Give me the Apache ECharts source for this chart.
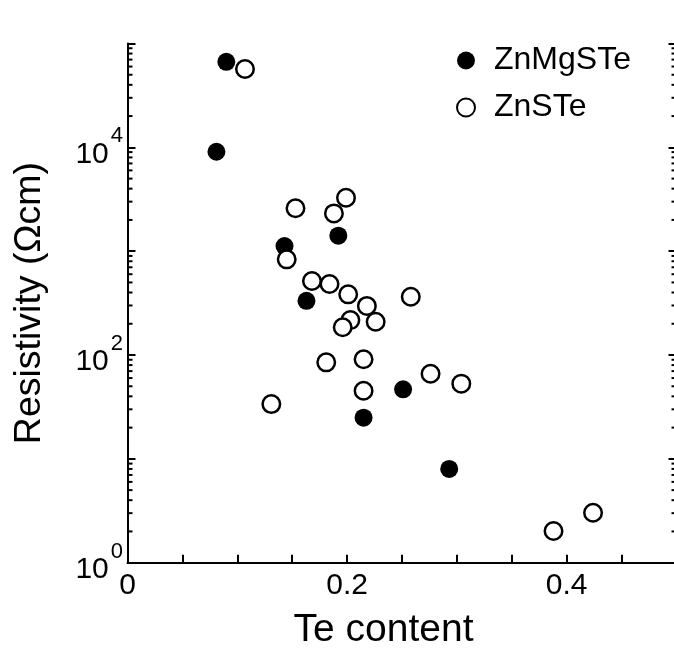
<!DOCTYPE html>
<html>
<head>
<meta charset="utf-8">
<script src="https://cdn.jsdelivr.net/npm/echarts@6/dist/echarts.min.js"></script>
<style>
html,body{margin:0;padding:0;background:#fff;}
#chart{width:674px;height:651px;}
</style>
</head>
<body>
<div id="chart"></div>
<script>
// ---- data ----
const seriesNames = ['ZnMgSTe', 'ZnSTe'];
const znMgSTeX = [0.090, 0.081, 0.143, 0.192, 0.163, 0.251, 0.215, 0.293];
const znMgSTeY = [66700, 9070, 1120, 1410, 333, 46.7, 24.9, 8.0];
const znSTeX = [0.107, 0.153, 0.199, 0.188, 0.145, 0.168, 0.184, 0.201, 0.218, 0.226, 0.203, 0.196, 0.258, 0.181, 0.215, 0.215, 0.276, 0.304, 0.131, 0.388, 0.424];
const znSTeY = [56800, 2590, 3270, 2310, 834, 516, 483, 384, 297, 209, 217, 185, 364, 85, 91, 45.3, 66, 53, 33.7, 2.02, 3.03];
const xTickLabels = {'0': '0', '0.2': '0.2', '0.4': '0.4'};
const yLabelExponents = {'1': '0', '100': '2', '10000': '4'};
const minorMultipliers = [2, 3, 4, 5, 6, 7, 8, 9];
const decades = [1, 10, 100, 1000, 10000];

const FONT = '"Liberation Sans", Arial, Helvetica, sans-serif';

function zip(xs, ys) { return xs.map((x, i) => [x, ys[i]]); }
const minorTickData = [];
decades.forEach(d => minorMultipliers.forEach(m => minorTickData.push([0, m * d])));

const chart = echarts.init(document.getElementById('chart'), null, {renderer: 'canvas'});
const axisLineStyle = {color: '#000', width: 2};

const option = {
  backgroundColor: '#fff',
  animation: false,
  textStyle: {fontFamily: FONT, color: '#000'},
  grid: {left: 127.5, top: 43.5, width: 549, height: 519.2, containLabel: false, outerBoundsMode: 'none'},
  legend: {
    data: seriesNames,
    orient: 'vertical',
    left: 456, top: 44.5,
    padding: 0,
    itemWidth: 18, itemHeight: 18,
    itemGap: 15,
    icon: 'circle',
    textStyle: {fontFamily: FONT, fontSize: 32, lineHeight: 31, color: '#000', padding: [0, 0, 0, 14]}
  },
  xAxis: {
    type: 'value', min: 0, max: 0.5, interval: 0.05,
    name: 'Te content', nameLocation: 'middle', nameGap: 49, nameMoveOverlap: false,
    nameTextStyle: {fontFamily: FONT, fontSize: 39, lineHeight: 38, color: '#000', padding: [0, 37, 0, 0]},
    axisLine: {show: true, onZero: false, lineStyle: axisLineStyle},
    axisTick: {show: true, inside: true, length: 8, lineStyle: axisLineStyle},
    splitLine: {show: false},
    axisLabel: {
      margin: 8, fontFamily: FONT, fontSize: 30, color: '#000', showMaxLabel: true,
      formatter: function (v) { const k = String(Math.round(v * 100) / 100); return xTickLabels[k] !== undefined ? xTickLabels[k] : ''; }
    }
  },
  yAxis: [{
    type: 'log', logBase: 10, min: 1, max: 100000,
    name: 'Resistivity (Ωcm)', nameLocation: 'middle', nameGap: 79, nameMoveOverlap: false,
    nameTextStyle: {fontFamily: FONT, fontSize: 37.5, lineHeight: 38, color: '#000'},
    axisLine: {show: true, lineStyle: axisLineStyle},
    axisTick: {show: true, inside: true, length: 8, lineStyle: axisLineStyle},
    splitLine: {show: false},
    axisLabel: {
      margin: 4.5, showMinLabel: true, showMaxLabel: true,
      formatter: function (v) { const e = yLabelExponents[String(Math.round(v))]; return e !== undefined ? '{b|10}{s|' + e + '}' : ''; },
      rich: {
        b: {fontFamily: FONT, fontSize: 30, lineHeight: 44, verticalAlign: 'bottom', color: '#000'},
        s: {fontFamily: FONT, fontSize: 22, lineHeight: 22, verticalAlign: 'top', color: '#000', padding: [0, 0, 0, 2]}
      }
    }
  }, {
    type: 'log', logBase: 10, min: 1, max: 100000, position: 'right',
    axisLine: {show: true, lineStyle: axisLineStyle},
    axisTick: {show: true, inside: true, length: 8, lineStyle: axisLineStyle},
    splitLine: {show: false},
    axisLabel: {show: false}
  }],
  series: [
    {
      type: 'custom', name: 'minorTicks', silent: true, clip: false,
      xAxisIndex: 0, yAxisIndex: 0,
      data: minorTickData,
      renderItem: function (params, api) {
        const v = api.value(1);
        const l = api.coord([0, v]);
        const r = api.coord([0.5, v]);
        const st = {stroke: '#000', lineWidth: 2};
        return {type: 'group', children: [
          {type: 'line', shape: {x1: l[0], y1: l[1], x2: l[0] + 5, y2: l[1]}, style: st},
          {type: 'line', shape: {x1: r[0] - 5, y1: r[1], x2: r[0], y2: r[1]}, style: st}
        ]};
      }
    },
    {
      type: 'scatter', name: seriesNames[0], data: zip(znMgSTeX, znMgSTeY),
      symbol: 'circle', symbolSize: 18,
      itemStyle: {color: '#000', opacity: 1}
    },
    {
      type: 'scatter', name: seriesNames[1], data: zip(znSTeX, znSTeY),
      symbol: 'circle', symbolSize: 17.5,
      itemStyle: {color: '#fff', borderColor: '#000', borderWidth: 2.5, opacity: 1}
    }
  ]
};
chart.setOption(option);
</script>
</body>
</html>
